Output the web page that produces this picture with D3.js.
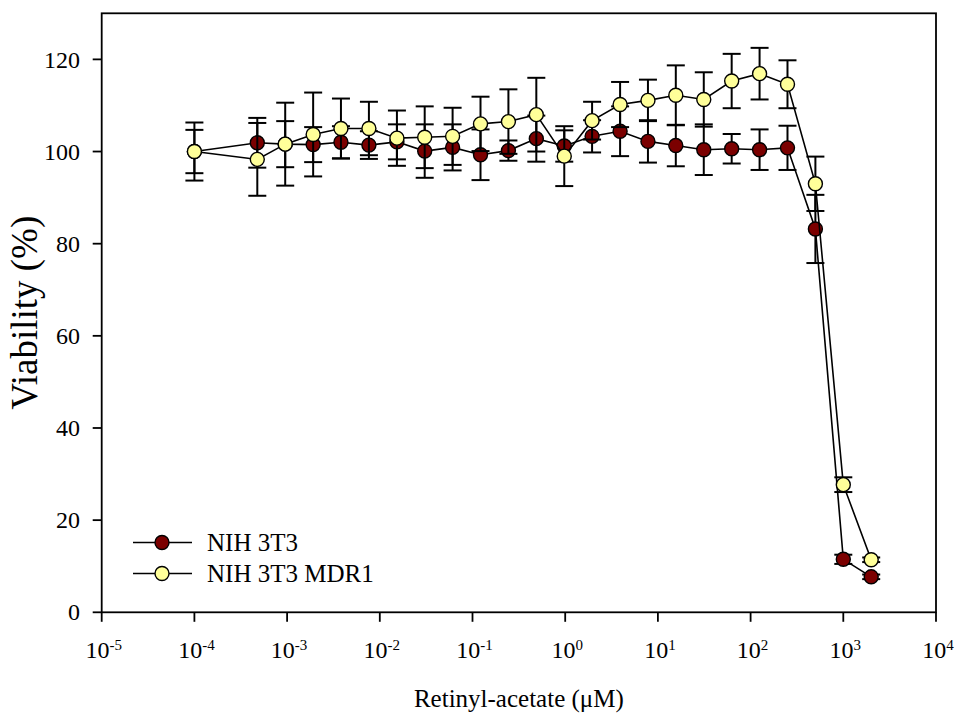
<!DOCTYPE html>
<html>
<head>
<meta charset="utf-8">
<script src="https://cdn.jsdelivr.net/npm/d3@7"></script>
<style>
  body { margin: 0; background: #fff; }
  svg { display: block; font-family: "Liberation Serif", "Times New Roman", serif; }
</style>
</head>
<body>
<svg id="chart" width="955" height="713"></svg>
<script>
// concentrations (uM), doubling dilutions plus the 1e-4 control
const concentrations = [1e-4, 0.000477, 0.000954, 0.00191, 0.00381, 0.00763, 0.0153, 0.0305,
  0.061, 0.122, 0.244, 0.488, 0.977, 1.95, 3.91, 7.81, 15.6, 31.25, 62.5, 125, 250, 500, 1000, 2000];

// NIH 3T3
const nihMean = [100, 101.9, 101.6, 101.5, 102.0, 101.4, 102.1, 100.1, 100.9, 99.3, 100.2, 102.8,
  101.2, 103.3, 104.4, 102.2, 101.3, 100.4, 100.6, 100.4, 100.8, 83.2, 11.5, 7.7];
const nihErr = [4.7, 5.4, 5.0, 3.8, 3.5, 3.0, 3.8, 5.8, 5.0, 5.5, 2.2, 5.0,
  3.4, 3.5, 5.4, 4.6, 4.5, 5.5, 3.2, 4.4, 4.8, 7.4, 1.0, 0.5];

// NIH 3T3 MDR1
const mdrMean = [100, 98.3, 101.6, 103.7, 105.0, 105.0, 102.9, 103.1, 103.3, 106.0, 106.5, 108.0,
  99.0, 106.7, 110.2, 111.1, 112.2, 111.3, 115.3, 116.9, 114.6, 93.0, 27.7, 11.4];
const mdrErr = [6.3, 7.9, 9.0, 9.1, 6.5, 5.8, 6.0, 6.7, 6.2, 5.9, 7.0, 8.0,
  6.5, 4.1, 4.9, 4.5, 6.5, 5.9, 5.9, 5.6, 5.2, 5.9, 1.6, 0.5];

const seriesNames = ["NIH 3T3", "NIH 3T3 MDR1"];
const seriesColors = ["#7b0000", "#ffff99"];
const xTickExps = [-5, -4, -3, -2, -1, 0, 1, 2, 3, 4];
const yTicks = [0, 20, 40, 60, 80, 100, 120];

const svg = d3.select("#chart");
const plotL = 101.7, plotR = 936, plotT = 13.3, plotB = 612.3;

const x = d3.scaleLog().domain([1e-5, 1e4]).range([plotL, plotR]);
const y = d3.scaleLinear().domain([0, 130]).range([plotB, plotT]);

// frame
svg.append("rect")
  .attr("x", plotL).attr("y", plotT)
  .attr("width", plotR - plotL).attr("height", plotB - plotT)
  .attr("fill", "none").attr("stroke", "#000").attr("stroke-width", 1.8);

// y axis ticks + labels
const yAxis = svg.append("g");
yAxis.selectAll("line").data(yTicks).join("line")
  .attr("x1", plotL - 9).attr("x2", plotL)
  .attr("y1", d => y(d)).attr("y2", d => y(d))
  .attr("stroke", "#000").attr("stroke-width", 1.8);
yAxis.selectAll("text").data(yTicks).join("text")
  .attr("x", 80).attr("y", d => y(d))
  .attr("dy", "0.34em")
  .attr("text-anchor", "end")
  .attr("font-size", 24)
  .text(d => d);

// x axis ticks + labels
const xAxis = svg.append("g");
xAxis.selectAll("line").data(xTickExps).join("line")
  .attr("x1", d => x(Math.pow(10, d))).attr("x2", d => x(Math.pow(10, d)))
  .attr("y1", plotB).attr("y2", plotB + 9.5)
  .attr("stroke", "#000").attr("stroke-width", 1.8);
const xLabels = xAxis.selectAll("text").data(xTickExps).join("text")
  .attr("x", d => x(Math.pow(10, d)) + 2)
  .attr("y", 657.5)
  .attr("text-anchor", "middle")
  .attr("font-size", 24);
xLabels.append("tspan").text("10");
xLabels.append("tspan")
  .attr("dy", -8)
  .attr("font-size", 15)
  .text(d => d < 0 ? "-" + (-d) : d);

// axis titles
svg.append("text")
  .attr("transform", `translate(37,${(plotT + plotB) / 2}) rotate(-90)`)
  .attr("text-anchor", "middle")
  .attr("font-size", 37)
  .text("Viability (%)");

svg.append("text")
  .attr("x", (plotL + plotR) / 2).attr("y", 707)
  .attr("text-anchor", "middle")
  .attr("font-size", 25)
  .text("Retinyl-acetate (\u03bcM)");

// series
const series = [
  { name: seriesNames[0], color: seriesColors[0], mean: nihMean, err: nihErr },
  { name: seriesNames[1], color: seriesColors[1], mean: mdrMean, err: mdrErr }
];

const line = d3.line().x(d => x(d.c)).y(d => y(d.m));
const capHalf = 9;

series.forEach(s => {
  const pts = concentrations.map((c, i) => ({ c, m: s.mean[i], e: s.err[i] }));
  const g = svg.append("g");

  g.append("path")
    .datum(pts)
    .attr("d", line)
    .attr("fill", "none")
    .attr("stroke", "#000")
    .attr("stroke-width", 1.6);

  const bars = g.append("g").attr("stroke", "#000").attr("stroke-width", 2);
  bars.selectAll("line.v").data(pts).join("line")
    .attr("class", "v")
    .attr("x1", d => x(d.c)).attr("x2", d => x(d.c))
    .attr("y1", d => y(d.m - d.e)).attr("y2", d => y(d.m + d.e));
  bars.selectAll("line.hi").data(pts).join("line")
    .attr("class", "hi")
    .attr("x1", d => x(d.c) - capHalf).attr("x2", d => x(d.c) + capHalf)
    .attr("y1", d => y(d.m + d.e)).attr("y2", d => y(d.m + d.e));
  bars.selectAll("line.lo").data(pts).join("line")
    .attr("class", "lo")
    .attr("x1", d => x(d.c) - capHalf).attr("x2", d => x(d.c) + capHalf)
    .attr("y1", d => y(d.m - d.e)).attr("y2", d => y(d.m - d.e));

  g.selectAll("circle").data(pts).join("circle")
    .attr("cx", d => x(d.c)).attr("cy", d => y(d.m))
    .attr("r", 7)
    .attr("fill", s.color)
    .attr("stroke", "#000")
    .attr("stroke-width", 1.4);
});

// legend
const legend = svg.append("g");
const legendY = [542.5, 573.5];
series.forEach((s, i) => {
  const ly = legendY[i];
  legend.append("line")
    .attr("x1", 133).attr("x2", 192)
    .attr("y1", ly).attr("y2", ly)
    .attr("stroke", "#000").attr("stroke-width", 1.6);
  legend.append("circle")
    .attr("cx", 162).attr("cy", ly).attr("r", 7)
    .attr("fill", s.color).attr("stroke", "#000").attr("stroke-width", 1.4);
  legend.append("text")
    .attr("x", 207).attr("y", ly + 8)
    .attr("font-size", 25)
    .text(s.name);
});
</script>
</body>
</html>
